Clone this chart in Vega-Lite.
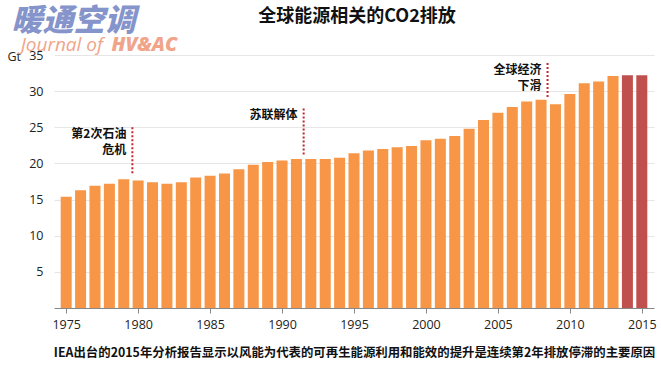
{
  "$schema": "https://vega.github.io/schema/vega-lite/v6.json",
  "width": 600,
  "height": 253,
  "autosize": {"type": "none"},
  "padding": {"left": 54, "top": 55, "right": 7, "bottom": 61},
  "background": "white",
  "config": {"view": {"stroke": null}, "font": "Open Sans"},
  "title": {
    "text": "全球能源相关的CO2排放",
    "font": "Noto Sans CJK SC",
    "fontSize": 18,
    "fontWeight": "bold",
    "color": "#111111",
    "anchor": "middle",
    "frame": "group",
    "dx": 3,
    "dy": 20,
    "offset": 0
  },
  "datasets": {
    "emissions": [
      {"year": 1975, "co2": 15.4}, {"year": 1976, "co2": 16.3}, {"year": 1977, "co2": 16.9},
      {"year": 1978, "co2": 17.2}, {"year": 1979, "co2": 17.8}, {"year": 1980, "co2": 17.65},
      {"year": 1981, "co2": 17.4}, {"year": 1982, "co2": 17.2}, {"year": 1983, "co2": 17.4},
      {"year": 1984, "co2": 18.05}, {"year": 1985, "co2": 18.3}, {"year": 1986, "co2": 18.6},
      {"year": 1987, "co2": 19.2}, {"year": 1988, "co2": 19.8}, {"year": 1989, "co2": 20.2},
      {"year": 1990, "co2": 20.4}, {"year": 1991, "co2": 20.6}, {"year": 1992, "co2": 20.6},
      {"year": 1993, "co2": 20.6}, {"year": 1994, "co2": 20.8}, {"year": 1995, "co2": 21.4},
      {"year": 1996, "co2": 21.8}, {"year": 1997, "co2": 22.0}, {"year": 1998, "co2": 22.25},
      {"year": 1999, "co2": 22.4}, {"year": 2000, "co2": 23.2}, {"year": 2001, "co2": 23.4},
      {"year": 2002, "co2": 23.8}, {"year": 2003, "co2": 24.8}, {"year": 2004, "co2": 26.0},
      {"year": 2005, "co2": 27.0}, {"year": 2006, "co2": 27.8}, {"year": 2007, "co2": 28.55},
      {"year": 2008, "co2": 28.8}, {"year": 2009, "co2": 28.2}, {"year": 2010, "co2": 29.6},
      {"year": 2011, "co2": 31.1}, {"year": 2012, "co2": 31.35}, {"year": 2013, "co2": 32.1},
      {"year": 2014, "co2": 32.2}, {"year": 2015, "co2": 32.2}
    ],
    "events": [
      {"x": 1979.6, "top": 25.0, "bottom": 18.4, "label": "第2次石油\n危机"},
      {"x": 1991.5, "top": 27.6, "bottom": 21.0, "label": "苏联解体"},
      {"x": 2008.45, "top": 33.9, "bottom": 29.1, "label": "全球经济\n下滑"}
    ]
  },
  "layer": [
    {
      "data": {"name": "emissions"},
      "mark": {"type": "bar", "size": 11},
      "encoding": {
        "x": {
          "field": "year",
          "type": "quantitative",
          "scale": {"domain": [1974.5, 2015.5], "nice": false, "zero": false},
          "axis": {
            "values": [1975, 1980, 1985, 1990, 1995, 2000, 2005, 2010, 2015],
            "format": "d",
            "grid": false,
            "tickSize": 5,
            "tickColor": "#888888",
            "domainColor": "#888888",
            "labelFontSize": 12.5,
            "labelColor": "#222222",
            "labelPadding": 5,
            "title": "IEA出台的2015年分析报告显示以风能为代表的可再生能源利用和能效的提升是连续第2年排放停滞的主要原因",
            "titleFont": "Noto Sans CJK SC",
            "titleFontSize": 12.4,
            "titleFontWeight": "bold",
            "titleColor": "#111111",
            "titlePadding": 16
          }
        },
        "y": {
          "field": "co2",
          "type": "quantitative",
          "scale": {"domain": [0, 35], "nice": false},
          "axis": {
            "values": [5, 10, 15, 20, 25, 30, 35],
            "domain": false,
            "ticks": false,
            "gridColor": "#e6e6e6",
            "labelFontSize": 12.5,
            "labelColor": "#222222",
            "labelPadding": 11,
            "title": "Gt",
            "titleAngle": 0,
            "titleAlign": "left",
            "titleBaseline": "middle",
            "titleX": -47,
            "titleY": 1,
            "titleFontSize": 12.5,
            "titleFontWeight": "normal",
            "titleColor": "#222222"
          }
        },
        "color": {
          "condition": {"test": "datum.year >= 2014", "value": "#C0504D"},
          "value": "#F79646"
        }
      }
    },
    {
      "data": {"name": "events"},
      "mark": {"type": "rule", "strokeDash": [2, 2], "strokeWidth": 2, "color": "#C0282D"},
      "encoding": {
        "x": {"field": "x", "type": "quantitative"},
        "y": {"field": "top", "type": "quantitative"},
        "y2": {"field": "bottom"}
      }
    },
    {
      "data": {"name": "events"},
      "mark": {
        "type": "text",
        "align": "right",
        "baseline": "top",
        "dx": -6,
        "dy": 2,
        "font": "Noto Sans CJK SC",
        "fontSize": 12,
        "fontWeight": "bold",
        "lineBreak": "\n",
        "lineHeight": 16,
        "color": "#111111"
      },
      "encoding": {
        "x": {"field": "x", "type": "quantitative"},
        "y": {"field": "top", "type": "quantitative"},
        "text": {"field": "label", "type": "nominal"}
      }
    },
    {
      "data": {"values": [{}]},
      "mark": {
        "type": "text",
        "align": "left",
        "baseline": "alphabetic",
        "font": "Noto Sans CJK SC",
        "fontSize": 31,
        "fontWeight": 900,
        "fontStyle": "italic",
        "color": "#8594CA"
      },
      "encoding": {
        "x": {"datum": 1971.2, "type": "quantitative"},
        "y": {"datum": 38.3, "type": "quantitative"},
        "text": {"value": "暖通空调"}
      }
    },
    {
      "data": {"values": [{}]},
      "mark": {
        "type": "text",
        "align": "left",
        "baseline": "alphabetic",
        "font": "Open Sans",
        "fontSize": 19,
        "fontWeight": 500,
        "fontStyle": "italic",
        "color": "#F0A58A"
      },
      "encoding": {
        "x": {"datum": 1971.835, "type": "quantitative"},
        "y": {"datum": 35.5, "type": "quantitative"},
        "text": {"value": "Journal of"}
      }
    },
    {
      "data": {"values": [{}]},
      "mark": {
        "type": "text",
        "align": "left",
        "baseline": "alphabetic",
        "font": "Open Sans",
        "fontSize": 19.5,
        "fontWeight": 800,
        "fontStyle": "italic",
        "color": "#F0A58A"
      },
      "encoding": {
        "x": {"datum": 1978.15, "type": "quantitative"},
        "y": {"datum": 35.5, "type": "quantitative"},
        "text": {"value": "HV&AC"}
      }
    }
  ]
}
